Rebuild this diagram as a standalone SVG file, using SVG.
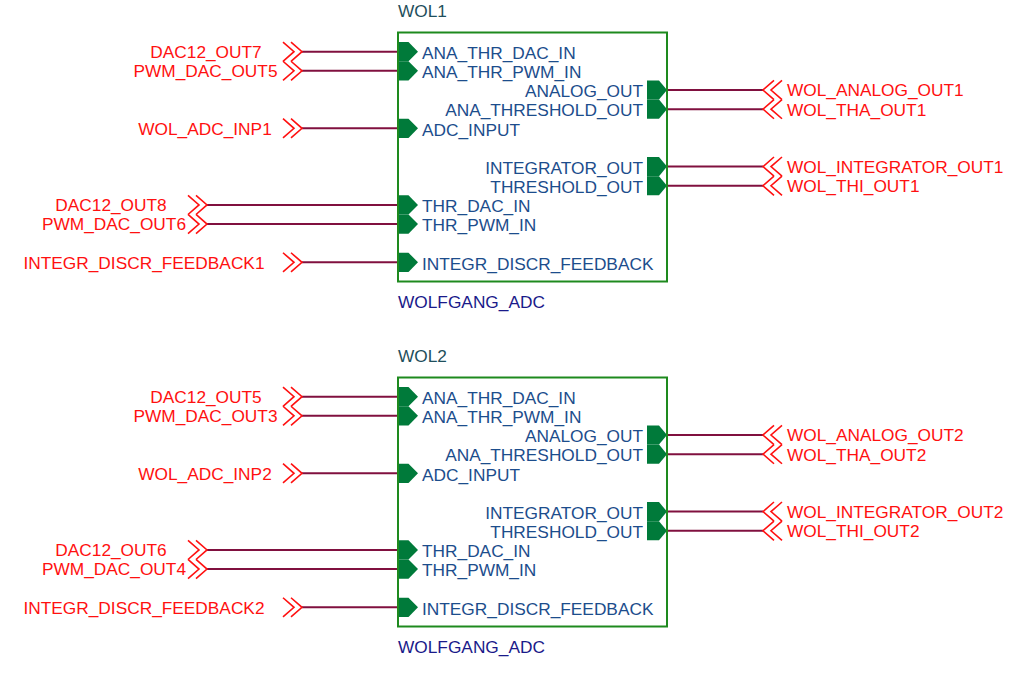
<svg xmlns="http://www.w3.org/2000/svg" xmlns:xlink="http://www.w3.org/1999/xlink" width="1018" height="675" viewBox="0 0 1018 675">
<style>
  text { font-family: "Liberation Sans", Arial, sans-serif; font-size: 17.3px; }
  .net { fill: #ff1010; }
  .pinlbl { fill: #1c4d8c; }
  .ref { fill: #1f4f5c; }
  .val { fill: #1a1a8a; }
  .wire { stroke: #80103f; stroke-width: 2; fill: none; }
  .box { stroke: #1e8a1e; stroke-width: 2; fill: none; }
  .pin { fill: #007a3a; }
  .chev { stroke: #ff1010; stroke-width: 1.6; fill: none; }
</style>
<defs>
  <path id="pinL" class="pin" d="M0,-9.6 H10.5 L20,0 L10.5,9.6 H0 Z"/>
  <path id="pinR" class="pin" d="M0,-9.6 H12 L20,0 L12,9.6 H0 Z"/>
  <path id="chevL" class="chev" d="M0,-9.6 L11,0 L0,9.6 M8,-9.6 L19,0 L8,9.6"/>
  <path id="chevR" class="chev" d="M11,-9.6 L0,0 L11,9.6 M19,-9.6 L8,0 L19,9.6"/>
</defs>

<g id="connectors">
  <line class="wire" x1="302" y1="51.7" x2="398" y2="51.7"/>
  <line class="wire" x1="302" y1="70.85" x2="398" y2="70.85"/>
  <line class="wire" x1="302" y1="128.3" x2="398" y2="128.3"/>
  <line class="wire" x1="207" y1="204.9" x2="398" y2="204.9"/>
  <line class="wire" x1="207" y1="224.05" x2="398" y2="224.05"/>
  <line class="wire" x1="302" y1="262.35" x2="398" y2="262.35"/>
  <line class="wire" x1="667" y1="90" x2="763" y2="90"/>
  <line class="wire" x1="667" y1="109.15" x2="763" y2="109.15"/>
  <line class="wire" x1="667" y1="166.6" x2="763" y2="166.6"/>
  <line class="wire" x1="667" y1="185.75" x2="763" y2="185.75"/>

  <line class="wire" x1="302" y1="396.7" x2="398" y2="396.7"/>
  <line class="wire" x1="302" y1="415.85" x2="398" y2="415.85"/>
  <line class="wire" x1="302" y1="473.3" x2="398" y2="473.3"/>
  <line class="wire" x1="207" y1="549.9" x2="398" y2="549.9"/>
  <line class="wire" x1="207" y1="569.05" x2="398" y2="569.05"/>
  <line class="wire" x1="302" y1="607.35" x2="398" y2="607.35"/>
  <line class="wire" x1="667" y1="435" x2="763" y2="435"/>
  <line class="wire" x1="667" y1="454.15" x2="763" y2="454.15"/>
  <line class="wire" x1="667" y1="511.6" x2="763" y2="511.6"/>
  <line class="wire" x1="667" y1="530.75" x2="763" y2="530.75"/>
</g>

<g id="WOL1">
  <text class="ref" x="398" y="17">WOL1</text>
  <use href="#pinL" x="398" y="51.7"/>
  <use href="#pinL" x="398" y="70.85"/>
  <use href="#pinL" x="398" y="128.3"/>
  <use href="#pinL" x="398" y="204.9"/>
  <use href="#pinL" x="398" y="224.05"/>
  <use href="#pinL" x="398" y="262.35"/>
  <use href="#pinR" x="647" y="90"/>
  <use href="#pinR" x="647" y="109.15"/>
  <use href="#pinR" x="647" y="166.6"/>
  <use href="#pinR" x="647" y="185.75"/>
  <rect class="box" x="398" y="32.5" width="269" height="249"/>
  <text class="pinlbl" x="422" y="59">ANA_THR_DAC_IN</text>
  <text class="pinlbl" x="422" y="78">ANA_THR_PWM_IN</text>
  <text class="pinlbl" x="422" y="135.5">ADC_INPUT</text>
  <text class="pinlbl" x="422" y="212">THR_DAC_IN</text>
  <text class="pinlbl" x="422" y="231">THR_PWM_IN</text>
  <text class="pinlbl" x="422" y="269.5">INTEGR_DISCR_FEEDBACK</text>
  <text class="pinlbl" x="643" y="97" text-anchor="end">ANALOG_OUT</text>
  <text class="pinlbl" x="643" y="116" text-anchor="end">ANA_THRESHOLD_OUT</text>
  <text class="pinlbl" x="643" y="174" text-anchor="end">INTEGRATOR_OUT</text>
  <text class="pinlbl" x="643" y="193" text-anchor="end">THRESHOLD_OUT</text>
  <text class="val" x="398" y="308">WOLFGANG_ADC</text>
</g>

<g id="WOL2">
  <text class="ref" x="398" y="362">WOL2</text>
  <use href="#pinL" x="398" y="396.7"/>
  <use href="#pinL" x="398" y="415.85"/>
  <use href="#pinL" x="398" y="473.3"/>
  <use href="#pinL" x="398" y="549.9"/>
  <use href="#pinL" x="398" y="569.05"/>
  <use href="#pinL" x="398" y="607.35"/>
  <use href="#pinR" x="647" y="435"/>
  <use href="#pinR" x="647" y="454.15"/>
  <use href="#pinR" x="647" y="511.6"/>
  <use href="#pinR" x="647" y="530.75"/>
  <rect class="box" x="398" y="377.5" width="269" height="249"/>
  <text class="pinlbl" x="422" y="404">ANA_THR_DAC_IN</text>
  <text class="pinlbl" x="422" y="423">ANA_THR_PWM_IN</text>
  <text class="pinlbl" x="422" y="480.5">ADC_INPUT</text>
  <text class="pinlbl" x="422" y="557">THR_DAC_IN</text>
  <text class="pinlbl" x="422" y="576">THR_PWM_IN</text>
  <text class="pinlbl" x="422" y="614.5">INTEGR_DISCR_FEEDBACK</text>
  <text class="pinlbl" x="643" y="442" text-anchor="end">ANALOG_OUT</text>
  <text class="pinlbl" x="643" y="461" text-anchor="end">ANA_THRESHOLD_OUT</text>
  <text class="pinlbl" x="643" y="519" text-anchor="end">INTEGRATOR_OUT</text>
  <text class="pinlbl" x="643" y="538" text-anchor="end">THRESHOLD_OUT</text>
  <text class="val" x="398" y="653">WOLFGANG_ADC</text>
</g>

<g id="nets1">
  <use href="#chevL" x="283" y="51.7"/>
  <use href="#chevL" x="283" y="70.85"/>
  <use href="#chevL" x="283" y="128.3"/>
  <use href="#chevL" x="188" y="204.9"/>
  <use href="#chevL" x="188" y="224.05"/>
  <use href="#chevL" x="283" y="262.35"/>
  <use href="#chevR" x="763" y="90"/>
  <use href="#chevR" x="763" y="109.15"/>
  <use href="#chevR" x="763" y="166.6"/>
  <use href="#chevR" x="763" y="185.75"/>
  <text class="net" x="206" y="57.5" text-anchor="middle">DAC12_OUT7</text>
  <text class="net" x="205.5" y="77" text-anchor="middle">PWM_DAC_OUT5</text>
  <text class="net" x="205" y="134.5" text-anchor="middle">WOL_ADC_INP1</text>
  <text class="net" x="111" y="211" text-anchor="middle">DAC12_OUT8</text>
  <text class="net" x="114" y="230" text-anchor="middle">PWM_DAC_OUT6</text>
  <text class="net" x="144" y="268.5" text-anchor="middle">INTEGR_DISCR_FEEDBACK1</text>
  <text class="net" x="787" y="96">WOL_ANALOG_OUT1</text>
  <text class="net" x="787" y="115.5">WOL_THA_OUT1</text>
  <text class="net" x="787" y="173">WOL_INTEGRATOR_OUT1</text>
  <text class="net" x="787" y="192">WOL_THI_OUT1</text>
</g>

<g id="nets2">
  <use href="#chevL" x="283" y="396.7"/>
  <use href="#chevL" x="283" y="415.85"/>
  <use href="#chevL" x="283" y="473.3"/>
  <use href="#chevL" x="188" y="549.9"/>
  <use href="#chevL" x="188" y="569.05"/>
  <use href="#chevL" x="283" y="607.35"/>
  <use href="#chevR" x="763" y="435"/>
  <use href="#chevR" x="763" y="454.15"/>
  <use href="#chevR" x="763" y="511.6"/>
  <use href="#chevR" x="763" y="530.75"/>
  <text class="net" x="206" y="402.5" text-anchor="middle">DAC12_OUT5</text>
  <text class="net" x="205.5" y="422" text-anchor="middle">PWM_DAC_OUT3</text>
  <text class="net" x="205" y="479.5" text-anchor="middle">WOL_ADC_INP2</text>
  <text class="net" x="111" y="556" text-anchor="middle">DAC12_OUT6</text>
  <text class="net" x="114" y="575" text-anchor="middle">PWM_DAC_OUT4</text>
  <text class="net" x="144" y="613.5" text-anchor="middle">INTEGR_DISCR_FEEDBACK2</text>
  <text class="net" x="787" y="441">WOL_ANALOG_OUT2</text>
  <text class="net" x="787" y="460.5">WOL_THA_OUT2</text>
  <text class="net" x="787" y="518">WOL_INTEGRATOR_OUT2</text>
  <text class="net" x="787" y="537">WOL_THI_OUT2</text>
</g>
</svg>
